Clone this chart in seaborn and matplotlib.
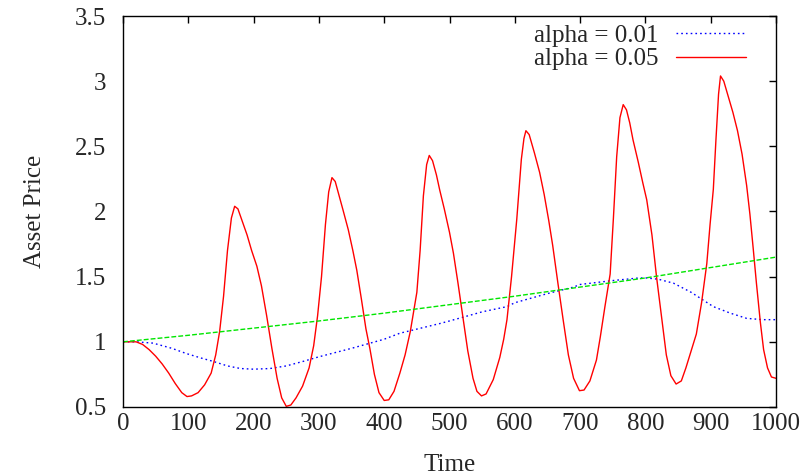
import numpy as np
import pandas as pd
import matplotlib
matplotlib.use("Agg")
import matplotlib.pyplot as plt
from matplotlib.ticker import MultipleLocator, FormatStrFormatter
import seaborn as sns

# valeurs
red_t = [0, 10, 20, 30, 40, 50, 60, 70, 80, 90, 98, 105, 115, 125, 135, 142, 148, 154, 160, 166, 171,
         176, 183, 190, 197, 205, 212, 220, 228, 236, 243, 250, 257, 265, 275, 285, 292, 298, 304, 310, 315,
         320, 325, 331, 337, 345, 352, 358, 365, 372, 378, 385, 392, 400, 407, 415, 424, 432, 440, 450, 455,
         460, 465, 469, 474, 480, 485, 492, 500, 506, 513, 521, 528, 536, 542, 549, 556, 567, 577, 583, 588,
         595, 603, 610, 614, 617, 622, 630, 638, 645, 652, 658, 666, 674, 682, 690, 699, 706, 715, 725, 731,
         738, 746, 751, 756, 761, 766, 771, 776, 781, 789, 796, 802, 810, 817, 825, 832, 839, 847, 855, 862,
         870, 878, 886, 894, 899, 904, 908, 912, 915, 920, 927, 934, 941, 948, 955, 960, 965, 970, 976, 981,
         987, 993, 1000]
red_p = [1.0, 1.0, 1.0, 0.98, 0.94, 0.89, 0.83, 0.76, 0.68, 0.61, 0.58, 0.585, 0.61, 0.67, 0.76, 0.90, 1.08, 1.35, 1.70, 1.95, 2.04,
         2.02, 1.92, 1.82, 1.70, 1.58, 1.43, 1.20, 0.95, 0.72, 0.57, 0.505, 0.515, 0.57, 0.66, 0.80, 0.97, 1.20, 1.50, 1.90, 2.15,
         2.26, 2.23, 2.12, 2.01, 1.86, 1.70, 1.55, 1.33, 1.10, 0.95, 0.75, 0.61, 0.55, 0.555, 0.62, 0.76, 0.90, 1.08, 1.38, 1.70,
         2.12, 2.36, 2.43, 2.39, 2.28, 2.165, 2.02, 1.84, 1.68, 1.45, 1.17, 0.93, 0.72, 0.62, 0.585, 0.60, 0.71, 0.88, 1.02, 1.17,
         1.50, 1.94, 2.40, 2.56, 2.62, 2.59, 2.45, 2.30, 2.13, 1.93, 1.74, 1.45, 1.17, 0.90, 0.72, 0.625, 0.63, 0.70, 0.86, 1.04,
         1.27, 1.52, 1.95, 2.42, 2.72, 2.82, 2.78, 2.68, 2.55, 2.38, 2.22, 2.09, 1.82, 1.50, 1.18, 0.90, 0.74, 0.676, 0.70, 0.80,
         0.93, 1.06, 1.30, 1.60, 1.90, 2.17, 2.55, 2.90, 3.04, 3.00, 2.88, 2.76, 2.62, 2.44, 2.20, 1.98, 1.72, 1.45, 1.15, 0.94,
         0.80, 0.73, 0.72]

blue_t = [0, 20, 46, 75, 97, 120, 138, 160, 180, 200, 225, 250, 276, 300, 350, 400, 424, 485, 500, 550, 588,
          600, 650, 690, 700, 750, 790, 802, 820, 843, 870, 904, 930, 955, 980, 1000]
blue_p = [1.0, 1.0, 0.99, 0.95, 0.91, 0.875, 0.85, 0.815, 0.795, 0.79, 0.795, 0.815, 0.85, 0.885, 0.95, 1.02, 1.066, 1.14, 1.16, 1.23, 1.27,
          1.30, 1.37, 1.42, 1.44, 1.47, 1.49, 1.49, 1.48, 1.45, 1.38, 1.27, 1.22, 1.18, 1.17, 1.17]

green_t = [0, 100, 200, 300, 400, 500, 600, 700, 800, 900, 1000]
green_p = [1.0, 1.05, 1.105, 1.16, 1.22, 1.285, 1.35, 1.42, 1.49, 1.57, 1.65]

df_red = pd.DataFrame({"Time": red_t, "Price": red_p})
df_blue = pd.DataFrame({"Time": blue_t, "Price": blue_p})
df_green = pd.DataFrame({"Time": green_t, "Price": green_p})

sns.set_style("white")
plt.rcParams['font.family'] = ['Liberation Serif', 'DejaVu Serif']

fig = plt.figure(figsize=(8.06, 4.75), dpi=100)
ax = fig.add_axes([0.1526, 0.1432, 0.8102, 0.8231])

sns.lineplot(data=df_blue, x="Time", y="Price", ax=ax, color='#0000ff', lw=1,
             linestyle=(0, (1.2, 2.2)), label='alpha = 0.01', sort=False)
sns.lineplot(data=df_red, x="Time", y="Price", ax=ax, color='#ff0000', lw=1,
             label='alpha = 0.05', sort=False)
sns.lineplot(data=df_green, x="Time", y="Price", ax=ax, color='#00e600', lw=1,
             linestyle=(0, (3.5, 1.5)), label='_nolegend_', sort=False)

ax.set_xlim(0, 1000)
ax.set_ylim(0.5, 3.5)
ax.xaxis.set_major_locator(MultipleLocator(100))
ax.yaxis.set_major_locator(MultipleLocator(0.5))
ax.yaxis.set_major_formatter(FormatStrFormatter('%g'))
ax.tick_params(direction='in', length=5, width=1, top=True, right=True, labelsize=18, color='black')
ax.tick_params(axis='x', pad=4)
ax.tick_params(axis='y', pad=12)
for s in ax.spines.values():
    s.set_color('black')
    s.set_linewidth(1)

ax.set_xlabel('Time', fontsize=18, labelpad=14)
ax.set_ylabel('Asset Price', fontsize=18, labelpad=21)

leg = ax.legend(loc='upper right', bbox_to_anchor=(0.97, 1.005), frameon=False, fontsize=18,
                markerfirst=False, handlelength=2.8, handletextpad=0.7, borderaxespad=0,
                labelspacing=0.05)

fig.savefig('out.png', dpi=100)
